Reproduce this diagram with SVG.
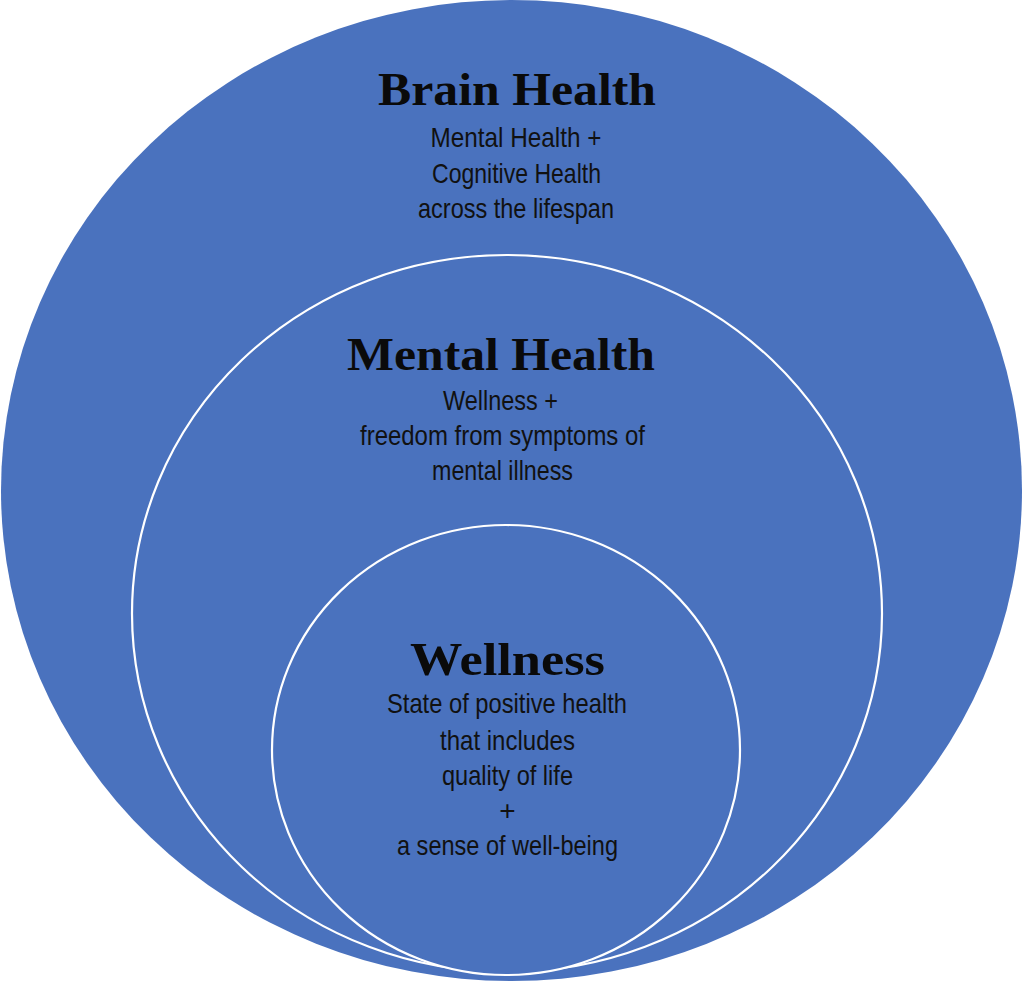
<svg xmlns="http://www.w3.org/2000/svg" width="1024" height="982" viewBox="0 0 1024 982">
  <style>
    .ring { fill: #4A72BE; }
    .inner { fill: #4A72BE; stroke: #FFFFFF; stroke-width: 2.2; }
    .title { font-family: "Liberation Serif", "DejaVu Serif", serif; font-weight: bold; font-size: 46px; fill: #0A0A0A; text-anchor: middle; }
    .body { font-family: "Liberation Sans", "DejaVu Sans", sans-serif; font-size: 28px; fill: #111111; text-anchor: middle; }
  </style>
  <rect width="1024" height="982" fill="#FFFFFF"/>
  <g id="brain-health">
    <ellipse class="ring" cx="511.5" cy="490.5" rx="510.5" ry="490.5"/>
    <text class="title" x="517" y="105" textLength="278" lengthAdjust="spacingAndGlyphs">Brain Health</text>
    <text class="body" x="516" y="147" textLength="171" lengthAdjust="spacingAndGlyphs">Mental Health +</text>
    <text class="body" x="516.5" y="183" textLength="169" lengthAdjust="spacingAndGlyphs">Cognitive Health</text>
    <text class="body" x="516" y="218" textLength="196" lengthAdjust="spacingAndGlyphs">across the lifespan</text>
  </g>
  <g id="mental-health">
    <ellipse class="inner" cx="507" cy="613.5" rx="375" ry="358.5"/>
    <text class="title" x="501" y="370" textLength="308" lengthAdjust="spacingAndGlyphs">Mental Health</text>
    <text class="body" x="500.5" y="410" textLength="115" lengthAdjust="spacingAndGlyphs">Wellness +</text>
    <text class="body" x="502.5" y="445" textLength="285" lengthAdjust="spacingAndGlyphs">freedom from symptoms of</text>
    <text class="body" x="502.5" y="480" textLength="141" lengthAdjust="spacingAndGlyphs">mental illness</text>
  </g>
  <g id="wellness">
    <ellipse class="inner" cx="506" cy="750" rx="234" ry="225"/>
    <text class="title" x="507.5" y="675" textLength="195" lengthAdjust="spacingAndGlyphs">Wellness</text>
    <text class="body" x="507" y="713" textLength="240" lengthAdjust="spacingAndGlyphs">State of positive health</text>
    <text class="body" x="507.5" y="750" textLength="135" lengthAdjust="spacingAndGlyphs">that includes</text>
    <text class="body" x="507.5" y="785" textLength="131" lengthAdjust="spacingAndGlyphs">quality of life</text>
    <text class="body" x="507.5" y="820">+</text>
    <text class="body" x="507.5" y="855" textLength="221" lengthAdjust="spacingAndGlyphs">a sense of well-being</text>
  </g>
  <g id="connectors"/>
</svg>
